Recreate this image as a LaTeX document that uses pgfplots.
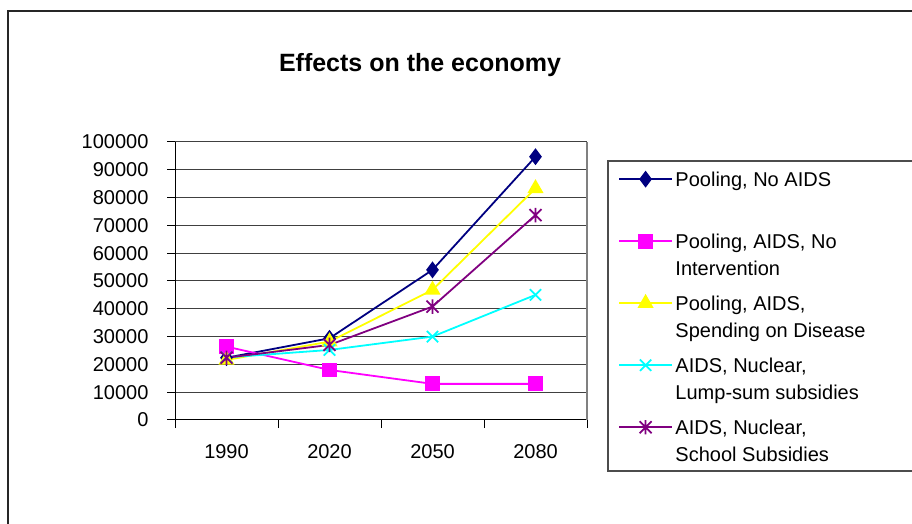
\documentclass[border=0pt]{standalone}
\usepackage{fontspec}
\setmainfont{Liberation Sans}
\usepackage{pgfplots}
\pgfplotsset{compat=1.18}

\definecolor{sNavy}{RGB}{0,0,128}
\definecolor{sMagenta}{RGB}{255,0,255}
\definecolor{sYellow}{RGB}{255,255,0}
\definecolor{sCyan}{RGB}{0,255,255}
\definecolor{sPurple}{RGB}{128,0,128}

% Excel style star: an x with a vertical bar
\pgfdeclareplotmark{xstar}{%
  \pgfpathmoveto{\pgfqpoint{-\pgfplotmarksize}{-\pgfplotmarksize}}%
  \pgfpathlineto{\pgfqpoint{\pgfplotmarksize}{\pgfplotmarksize}}%
  \pgfpathmoveto{\pgfqpoint{-\pgfplotmarksize}{\pgfplotmarksize}}%
  \pgfpathlineto{\pgfqpoint{\pgfplotmarksize}{-\pgfplotmarksize}}%
  \pgfpathmoveto{\pgfqpoint{0pt}{-1.2\pgfplotmarksize}}%
  \pgfpathlineto{\pgfqpoint{0pt}{1.2\pgfplotmarksize}}%
  \pgfusepathqstroke}

\newcommand{\lfont}{\fontsize{20}{27}\selectfont}
% one legend entry: fixed 62pt slot, baseline on the first line
\newcommand{\lentry}[1]{\parbox[t][62pt][t]{220pt}{\strut #1}}

\begin{document}
\begin{tikzpicture}[x=1pt,y=1pt]
\path[use as bounding box] (0,0) rectangle (912,524);
% outer chart frame
\draw[line width=2pt, black!85] (7.5,-5) -- (7.5,512.5) -- (920,512.5);
\node[anchor=base, font=\fontsize{25}{30}\selectfont\bfseries] at (420,452.3) {Effects on the economy};

\begin{axis}[
    at={(175pt,104pt)}, anchor=south west,
    scale only axis, width=412pt, height=278pt,
    xmin=0.5, xmax=4.5, ymin=0, ymax=100000,
    clip=false,
    axis x line*=bottom, axis y line*=left,
    axis line style={black, line width=1pt, -},
    xtick={1,2,3,4}, xticklabels={1990,2020,2050,2080},
    major x tick style={draw=none},
    minor xtick={0.5,1.5,2.5,3.5,4.5},
    ytick={0,10000,...,100000},
    tick align=outside, major tick length=8pt, minor tick length=8pt,
    tick style={black, line width=1pt},
    ymajorgrids, major grid style={black!75, line width=1pt},
    scaled y ticks=false,
    yticklabel style={/pgf/number format/fixed, /pgf/number format/1000 sep={}, xshift=-15pt},
    xticklabel style={yshift=-13pt},
    ticklabel style={font=\fontsize{20}{24}\selectfont},
    /pgf/number format/assume math mode=true,
    legend style={at={(rel axis cs:1.0752,0.9097)}, anchor=north west, draw=none, fill=none,
        font=\lfont, cells={anchor=base west}, row sep=0pt, inner sep=0pt,
        nodes={inner xsep=2.5pt, inner ysep=0pt, text depth=}},
    legend image code/.code={\draw[mark repeat=2, mark phase=2] plot coordinates {(0pt,7pt) (26.5pt,7pt) (53pt,7pt)};},
    every axis plot/.append style={line width=1.8pt, mark options={solid}},
]
\addplot[sNavy, mark=diamond*, mark size=7pt, mark options={fill=sNavy}] coordinates {(1,22400) (2,29400) (3,54000) (4,94700)};
\addlegendentry{\lentry{Pooling, No AIDS}}
\addplot[sMagenta, mark=square*, mark size=6.5pt, mark options={fill=sMagenta}] coordinates {(1,26400) (2,18000) (3,13000) (4,13000)};
\addlegendentry{\lentry{Pooling, AIDS, No\\Intervention}}
\addplot[sYellow, mark=triangle*, mark size=7.5pt, mark options={fill=sYellow}] coordinates {(1,21600) (2,28200) (3,46800) (4,83300)};
\addlegendentry{\lentry{Pooling, AIDS,\\Spending on Disease}}
\addplot[sCyan, mark=x, mark size=8pt] coordinates {(1,22500) (2,25200) (3,30000) (4,45000)};
\addlegendentry{\lentry{AIDS, Nuclear,\\Lump-sum subsidies}}
\addplot[sPurple, mark=xstar, mark size=6pt] coordinates {(1,22400) (2,27000) (3,40800) (4,73700)};
\addlegendentry{\lentry{AIDS, Nuclear,\\School Subsidies}}
\draw[black!50, line width=1.5pt] (axis cs:4.5,0) -- (axis cs:4.5,100000);
\end{axis}
% legend frame
\draw[black!70, line width=1.5pt] (920,363) -- (608,363) -- (608,53) -- (920,53);
\end{tikzpicture}
\end{document}
